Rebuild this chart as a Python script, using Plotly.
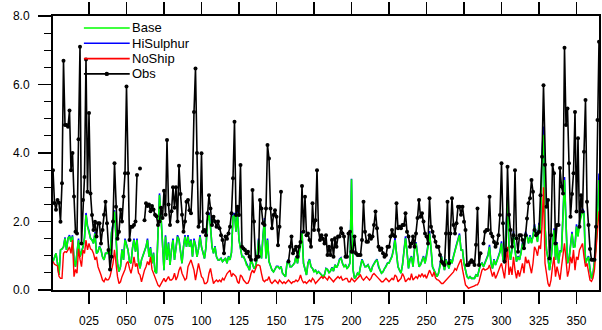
import plotly.graph_objects as go

# ---------------- data (day of year 1..365) ----------------
DAYS = list(range(1, 366))

OBS = [
    3.5, 2.54, 2.34, 2.63, 2.55, 1.99, 3.12, 6.69, 4.82, 4.82,
    4.77, 5.24, 3.5, 4.0, 2.73, 1.7, 1.65, 4.4, 7.1, 1.36,
    2.63, 3.3, 6.73, 2.87, 5.17, 2.82, 2.19, 1.75, 1.99, 1.56,
    1.95, 1.95, 1.36, 1.75, 2.2, 2.58, 1.95, 1.17, 0.6, 0.97,
    2.0, 3.7, 2.43, 1.5, 1.7, 2.34, 2.0, 2.73, 3.41, 5.94,
    3.41, 1.46, 1.85, 1.85, 1.9, 2.0, 3.36, None, 3.55, None,
    None, 2.04, 2.53, 2.45, 2.5, 2.3, 2.45, 2.35, 2.2, 2.15,
    1.9, 2.0, 2.4, 2.1, 2.9, 2.2, 4.38, 2.5, 1.9, 2.3,
    3.0, 2.4, 3.0, 2.0, 3.63, 2.8, 2.2, 1.7, 2.0, 2.58,
    2.63, 2.33, 2.24, 3.16, 5.2, 6.47, 4.0, 1.85, 2.0, 3.99,
    1.7, 1.75, 1.6, 2.24, 2.77, 2.38, 1.9, 2.14, 2.0, 1.85,
    2.0, 1.8, 1.6, 1.46, 1.07, 1.56, 1.5, 1.65, 1.85, 2.24,
    3.26, 4.91, 2.19, 2.43, 2.19, 3.65, 1.26, 1.21, 1.17, 1.07,
    1.12, 0.97, 0.88, 2.92, 2.0, 0.88, 0.97, 0.97, 2.63, 2.38,
    1.95, 1.9, 2.38, 4.23, 3.84, 2.38, 1.8, 2.19, 2.33, 2.14,
    1.31, 1.85, 2.87, None, None, None, None, 0.83, 1.26, 1.56,
    1.07, 1.17, 1.26, 0.97, 1.26, 1.4, 3.04, 1.7, 2.72, 1.6,
    1.65, 1.46, 1.26, 2.53, 1.75, 2.04, 3.5, 1.75, 1.46, 1.6,
    1.5, 1.36, 1.6, 1.02, 1.26, 1.02, 1.46, 0.97, 1.51, 1.26,
    1.56, 1.56, 1.8, 1.65, 1.56, 0.97, 0.97, 1.65, 1.7, 1.12,
    1.12, 1.56, 1.07, 1.02, 1.02, 1.02, 1.46, 2.58, 1.7, 1.41,
    1.41, 1.6, 1.5, 1.56, 1.9, 2.29, 1.8, 1.26, 1.17, 1.21,
    1.07, 0.97, 1.02, 1.26, 1.26, 1.56, 1.75, 1.6, 1.56, 2.53,
    1.8, 1.85, 1.8, 1.9, 1.9, 2.24, 1.7, 1.56, 1.26, 1.36,
    1.56, 1.26, 1.65, 2.1, 2.63, 2.14, 2.24, 2.0, 1.65, 1.56,
    1.36, 2.68, 1.85, 1.7, 1.56, 1.41, 1.26, 1.26, 1.02, 0.83,
    0.78, 0.73, 1.65, 2.58, 0.78, 1.65, 2.68, 1.9, 1.65, 1.95,
    2.43, 2.43, 2.2, 2.43, 1.99, 1.75, 0.73, 0.73, 0.8, 0.87,
    0.82, 0.73, 1.32, 2.38, 0.73, 1.07, None, 1.36, 1.7, 1.75,
    1.75, 2.72, 1.65, 1.56, 1.4, 1.26, 1.36, 1.6, 2.19, 3.7,
    1.95, 0.83, 1.17, 3.6, 2.2, 1.75, 1.26, 1.6, 3.5, 1.51,
    1.12, 1.6, 1.6, 1.46, 1.22, 1.6, 2.09, 2.53, 2.68, 3.21,
    2.87, 1.75, 1.6, 1.65, 1.7, 2.77, 3.89, 5.98, 3.66, 2.43,
    2.63, 0.92, 1.6, 3.66, 3.41, 1.36, 1.9, 1.9, 3.56, 3.02,
    2.82, 7.07, 4.82, 5.3, 3.7, 2.14, 2.8, 3.41, 5.2, 2.29,
    4.43, 1.85, 2.77, 2.29, 4.04, 5.55, 2.58, 1.9, 1.2, 0.88,
    0.88, 0.88, 1.85, 4.96, 7.25,
]

BASE = [
    0.83, 0.97, 1.07, 0.78, 0.44, 1.17, 1.2, 1.26, 1.51, 1.17,
    1.51, 1.56, 1.41, 1.56, 0.88, 0.68, 1.17, 1.46, 0.97, 1.1,
    1.26, 1.51, 2.19, 1.85, 1.7, 1.51, 1.46, 1.36, 1.65, 1.07,
    1.12, 1.26, 1.17, 0.97, 0.88, 1.07, 1.07, 1.17, 1.0, 1.65,
    1.9, 2.29, 1.56, 0.78, 0.54, 0.68, 1.17, 0.88, 1.46, 1.3,
    1.17, 0.83, 0.78, 1.22, 1.46, 1.12, 1.46, 0.83, 0.63, 0.88,
    1.0, 1.17, 1.26, 1.46, 0.97, 1.22, 0.78, 1.07, 0.54, 0.49,
    1.5, 2.77, 2.14, 1.36, 0.58, 1.56, 0.88, 1.36, 0.73, 1.17,
    1.46, 0.88, 1.26, 1.56, 1.46, 1.17, 0.78, 1.26, 1.56, 1.26,
    1.56, 1.26, 1.45, 0.97, 1.45, 1.3, 0.97, 1.2, 1.56, 1.26,
    1.07, 0.92, 1.26, 2.0, 2.19, 1.85, 1.26, 1.07, 1.26, 0.97,
    0.88, 0.88, 0.92, 0.83, 0.88, 0.92, 0.78, 0.97, 0.88, 1.1,
    2.14, 2.19, 1.7, 2.24, 1.46, 1.26, 0.97, 0.97, 0.88, 0.73,
    0.68, 0.58, 0.88, 0.78, 0.63, 0.68, 0.9, 1.46, 1.12, 0.92,
    1.56, 2.04, 0.92, 1.46, 0.83, 0.68, 0.58, 0.53, 0.63, 0.68,
    0.68, 0.63, 0.68, 0.49, 0.44, 0.39, 0.78, 0.88, 0.68, 0.68,
    0.73, 0.78, 0.97, 0.78, 1.02, 1.41, 1.66, 0.78, 0.63, 0.44,
    0.78, 0.88, 0.68, 0.63, 0.53, 0.58, 0.49, 0.53, 0.49, 0.44,
    0.39, 0.44, 0.62, 0.6, 0.5, 0.55, 0.65, 0.55, 0.73, 0.65,
    0.73, 0.88, 0.92, 0.78, 0.68, 0.73, 0.63, 0.68, 0.78, 3.23,
    0.6, 0.34, 0.39, 0.49, 0.44, 0.68, 0.88, 0.78, 0.68, 0.68,
    0.73, 0.63, 0.53, 0.68, 0.78, 0.83, 0.88, 0.68, 0.58, 0.49,
    0.53, 0.63, 0.68, 0.78, 0.78, 0.88, 0.97, 1.17, 1.46, 1.07,
    0.68, 0.58, 0.49, 0.73, 1.2, 1.51, 1.12, 0.63, 0.88, 0.97,
    0.68, 1.17, 1.36, 0.92, 0.68, 0.73, 0.88, 0.97, 0.78, 0.97,
    1.26, 1.65, 1.26, 0.68, 0.58, 0.49, 0.39, 0.49, 0.68, 0.97,
    0.78, 0.58, 0.88, 0.78, 0.63, 0.88, 0.78, 0.97, 1.17, 1.3,
    1.45, 1.6, 1.17, 1.17, 0.78, 0.58, 0.39, 0.34, 0.39, 0.34,
    0.34, 0.34, 0.44, 0.39, 0.58, 0.73, 0.78, 0.68, 0.78, 0.88,
    1.0, 1.26, 0.78, 0.63, 0.88, 0.73, 0.83, 0.97, 1.1, 1.36,
    0.88, 0.78, 1.56, 2.63, 1.26, 0.88, 1.17, 1.65, 1.17, 0.83,
    0.97, 0.88, 1.07, 1.36, 1.17, 1.65, 1.56, 1.36, 1.56, 1.36,
    1.56, 1.85, 1.65, 1.4, 1.9, 1.65, 3.79, 4.53, 1.85, 1.17,
    0.92, 0.58, 0.88, 1.36, 1.75, 0.88, 1.36, 0.78, 1.12, 1.12,
    2.14, 3.21, 1.95, 0.78, 0.88, 1.36, 1.65, 1.26, 1.26, 1.85,
    1.56, 1.95, 2.14, 2.29, 2.24, 0.78, 0.88, 0.97, 0.6, 0.34,
    0.44, 0.78, 1.26, 2.14, 3.21,
]

HISULPHUR = [
    0.83, 0.97, 1.07, 0.78, 0.44, 1.17, 1.2, 1.26, 1.54, 1.17,
    1.51, 1.6, 1.41, 1.6, 0.88, 0.68, 1.17, 1.5, 0.97, 1.1,
    1.26, 1.53, 2.25, 1.87, 1.73, 1.51, 1.46, 1.36, 1.69, 1.07,
    1.12, 1.28, 1.17, 0.97, 0.88, 1.07, 1.07, 1.17, 1.0, 1.68,
    1.93, 2.33, 1.56, 0.78, 0.54, 0.68, 1.19, 0.88, 1.5, 1.3,
    1.17, 0.83, 0.78, 1.22, 1.5, 1.12, 1.5, 0.83, 0.63, 0.88,
    1.0, 1.17, 1.26, 1.5, 0.97, 1.25, 0.78, 1.09, 0.54, 0.49,
    1.52, 2.82, 2.16, 1.36, 0.58, 1.6, 0.88, 1.39, 0.73, 1.17,
    1.5, 0.88, 1.26, 1.6, 1.48, 1.17, 0.78, 1.26, 1.6, 1.26,
    1.6, 1.26, 1.48, 0.97, 1.5, 1.32, 0.97, 1.2, 1.6, 1.26,
    1.07, 0.92, 1.26, 2.05, 2.26, 1.87, 1.26, 1.07, 1.28, 0.97,
    0.88, 0.88, 0.93, 0.83, 0.88, 0.93, 0.78, 0.99, 0.88, 1.1,
    2.18, 2.25, 1.7, 2.3, 1.46, 1.26, 0.97, 0.98, 0.88, 0.73,
    0.68, 0.58, 0.9, 0.78, 0.63, 0.68, 0.91, 1.5, 1.12, 0.92,
    1.6, 2.1, 0.92, 1.5, 0.83, 0.68, 0.58, 0.53, 0.63, 0.69,
    0.69, 0.63, 0.69, 0.49, 0.44, 0.39, 0.79, 0.9, 0.68, 0.68,
    0.73, 0.79, 0.99, 0.78, 1.04, 1.45, 1.72, 0.78, 0.63, 0.44,
    0.8, 0.9, 0.68, 0.63, 0.53, 0.59, 0.49, 0.54, 0.49, 0.44,
    0.39, 0.45, 0.63, 0.6, 0.5, 0.56, 0.66, 0.55, 0.74, 0.65,
    0.74, 0.9, 0.94, 0.78, 0.68, 0.74, 0.63, 0.69, 0.8, 3.25,
    0.6, 0.34, 0.39, 0.49, 0.44, 0.69, 0.9, 0.78, 0.68, 0.69,
    0.74, 0.63, 0.53, 0.69, 0.79, 0.85, 0.9, 0.68, 0.58, 0.49,
    0.53, 0.63, 0.68, 0.79, 0.79, 0.9, 0.99, 1.2, 1.52, 1.07,
    0.68, 0.58, 0.49, 0.74, 1.23, 1.57, 1.12, 0.63, 0.9, 0.99,
    0.68, 1.2, 1.4, 0.92, 0.68, 0.74, 0.9, 0.99, 0.78, 0.99,
    1.3, 1.72, 1.26, 0.68, 0.58, 0.49, 0.39, 0.49, 0.69, 0.99,
    0.78, 0.58, 0.9, 0.78, 0.63, 0.9, 0.78, 0.99, 1.2, 1.33,
    1.48, 1.65, 1.17, 1.17, 0.78, 0.58, 0.39, 0.34, 0.39, 0.34,
    0.34, 0.34, 0.45, 0.39, 0.58, 0.74, 0.8, 0.68, 0.8, 0.9,
    1.03, 1.32, 0.78, 0.63, 0.9, 0.73, 0.85, 0.99, 1.13, 1.42,
    0.88, 0.78, 1.6, 2.72, 1.26, 0.88, 1.2, 1.72, 1.17, 0.83,
    0.99, 0.88, 1.1, 1.4, 1.17, 1.7, 1.6, 1.36, 1.6, 1.38,
    1.6, 1.92, 1.67, 1.42, 1.96, 1.67, 3.95, 4.77, 1.87, 1.17,
    0.92, 0.58, 0.9, 1.4, 1.8, 0.88, 1.4, 0.78, 1.14, 1.15,
    2.2, 3.3, 1.97, 0.78, 0.9, 1.4, 1.7, 1.26, 1.29, 1.92,
    1.58, 2.02, 2.2, 2.38, 2.28, 0.78, 0.9, 0.99, 0.6, 0.34,
    0.45, 0.8, 1.3, 2.22, 3.4,
]

NOSHIP = [
    0.83, 0.75, 0.73, 0.7, 0.4, 0.34, 0.34, 1.07, 1.12, 1.1,
    1.17, 1.26, 1.07, 1.46, 0.39, 0.6, 0.49, 1.2, 0.9, 0.68,
    1.17, 1.07, 1.46, 1.17, 1.36, 1.2, 1.17, 1.07, 0.88, 0.97,
    0.68, 0.58, 0.44, 0.29, 0.24, 0.34, 0.29, 0.3, 0.39, 0.58,
    0.78, 1.17, 0.68, 0.39, 0.19, 0.24, 0.39, 0.49, 0.6, 0.78,
    0.83, 0.63, 0.49, 0.68, 0.97, 0.68, 0.78, 0.5, 0.44, 0.24,
    0.44, 0.58, 0.68, 0.83, 0.73, 0.97, 0.6, 0.49, 0.35, 0.29,
    0.14, 0.1, 0.19, 0.24, 0.34, 0.24, 0.3, 0.39, 0.29, 0.29,
    0.34, 0.49, 0.29, 0.39, 0.58, 0.68, 0.49, 0.4, 0.29, 0.34,
    0.68, 0.78, 0.88, 0.73, 0.58, 0.29, 0.5, 0.78, 0.58, 0.39,
    0.34, 0.19, 0.19, 0.24, 0.49, 0.63, 0.39, 0.19, 0.25, 0.29,
    0.24, 0.29, 0.24, 0.34, 0.29, 0.4, 0.48, 0.53, 0.58, 0.39,
    0.48, 0.44, 0.39, 0.24, 0.19, 0.44, 0.39, 0.29, 0.24, 0.19,
    0.2, 0.3, 0.48, 0.58, 0.5, 0.6, 0.73, 0.73, 0.7, 0.48,
    0.29, 0.24, 0.29, 0.29, 0.39, 0.24, 0.19, 0.24, 0.29, 0.24,
    0.19, 0.29, 0.24, 0.19, 0.24, 0.19, 0.24, 0.29, 0.24, 0.19,
    0.24, 0.24, 0.29, 0.25, 0.3, 0.44, 0.29, 0.21, 0.24, 0.19,
    0.24, 0.29, 0.24, 0.34, 0.29, 0.19, 0.24, 0.29, 0.34, 0.39,
    0.34, 0.39, 0.34, 0.29, 0.39, 0.34, 0.29, 0.24, 0.3, 0.34,
    0.39, 0.34, 0.39, 0.29, 0.3, 0.34, 0.34, 0.24, 0.24, 0.34,
    0.29, 0.24, 0.29, 0.34, 0.39, 0.44, 0.34, 0.29, 0.34, 0.39,
    0.34, 0.29, 0.34, 0.44, 0.48, 0.44, 0.39, 0.34, 0.29, 0.24,
    0.24, 0.29, 0.34, 0.29, 0.24, 0.29, 0.34, 0.29, 0.44, 0.39,
    0.24, 0.29, 0.34, 0.48, 0.39, 0.24, 0.29, 0.34, 0.29, 0.48,
    0.29, 0.34, 0.39, 0.34, 0.44, 0.39, 0.48, 0.39, 0.44, 0.34,
    0.48, 0.58, 0.48, 0.39, 0.53, 0.35, 0.3, 0.29, 0.24, 0.19,
    0.19, 0.24, 0.29, 0.34, 0.39, 0.44, 0.48, 0.53, 0.63, 0.58,
    0.7, 0.8, 0.9, 0.6, 0.35, 0.15, 0.1, 0.05, 0.07, 0.08,
    0.1, 0.12, 0.15, 0.15, 0.24, 0.44, 0.58, 0.63, 0.58, 0.6,
    0.63, 0.73, 0.58, 0.39, 0.53, 0.34, 0.44, 0.58, 0.68, 0.78,
    0.58, 0.34, 0.78, 1.26, 0.44, 0.68, 0.44, 0.97, 0.58, 0.34,
    0.58, 0.39, 0.58, 0.78, 0.49, 0.97, 0.78, 0.88, 0.68, 0.49,
    0.78, 1.26, 1.17, 1.0, 1.3, 1.2, 1.85, 3.0, 0.78, 0.39,
    0.19, 0.1, 0.29, 0.68, 0.97, 0.39, 0.68, 0.49, 0.3, 0.68,
    1.0, 1.36, 0.88, 0.39, 0.58, 0.97, 0.78, 1.17, 0.58, 0.97,
    0.88, 1.17, 1.26, 1.36, 0.97, 0.68, 0.78, 0.49, 0.29, 0.25,
    0.35, 0.6, 1.1, 1.75, 2.3,
]

SERIES_NAMES = ["Base", "HiSulphur", "NoShip", "Obs"]
X_TICKS = [25, 50, 75, 100, 125, 150, 175, 200, 225, 250, 275, 300, 325, 350]
X_TICK_LABELS = ["025", "050", "075", "100", "125", "150", "175",
                 "200", "225", "250", "275", "300", "325", "350"]
Y_TICKS = [0, 2, 4, 6, 8]
Y_TICK_LABELS = ["0.0", "2.0", "4.0", "6.0", "8.0"]

# ---------------- styles ----------------
FONT = "Liberation Sans, Arial, Helvetica, sans-serif"
COLORS = {"Base": "#00ff00", "HiSulphur": "#0000ff", "NoShip": "#ff0000", "Obs": "#000000"}
W, H = 602, 330
ML, MR, MT, MB = 53, 1, 16, 40

fig = go.Figure()
# draw order: HiSulphur under Base so only its tips show
fig.add_trace(go.Scatter(x=DAYS, y=HISULPHUR, mode="lines", name="HiSulphur",
                         line=dict(color=COLORS["HiSulphur"], width=1.6)))
fig.add_trace(go.Scatter(x=DAYS, y=BASE, mode="lines", name="Base",
                         line=dict(color=COLORS["Base"], width=1.6)))
fig.add_trace(go.Scatter(x=DAYS, y=NOSHIP, mode="lines", name="NoShip",
                         line=dict(color=COLORS["NoShip"], width=1.4)))
fig.add_trace(go.Scatter(x=DAYS, y=OBS, mode="lines+markers", name="Obs",
                         line=dict(color=COLORS["Obs"], width=1.6),
                         marker=dict(color=COLORS["Obs"], size=4),
                         connectgaps=False))

# ---------------- manual legend ----------------
pw, ph = W - ML - MR, H - MT - MB
def px_x(p):
    return (p - ML) / pw
def px_y(p):
    return (H - MB - p) / ph

shapes, annotations = [], []
for i, name in enumerate(SERIES_NAMES):
    yy = px_y(28 + 15.3 * i)
    shapes.append(dict(type="line", xref="paper", yref="paper",
                       x0=px_x(84), x1=px_x(130), y0=yy, y1=yy,
                       line=dict(color=COLORS[name], width=1.6)))
    annotations.append(dict(xref="paper", yref="paper", x=px_x(130.5), y=yy,
                            text=name, showarrow=False, xanchor="left", yanchor="middle",
                            font=dict(family=FONT, size=13, color="black")))
    if name == "Obs":
        r = 2.2
        shapes.append(dict(type="circle", xref="paper", yref="paper",
                           x0=px_x(107 - r), x1=px_x(107 + r),
                           y0=yy - r / ph, y1=yy + r / ph,
                           fillcolor="black", line=dict(color="black", width=0)))

fig.update_layout(
    width=W, height=H, autosize=False,
    margin=dict(l=ML, r=MR, t=MT, b=MB, pad=0),
    paper_bgcolor="white", plot_bgcolor="white",
    showlegend=False, hovermode=False,
    font=dict(family=FONT, size=12, color="black"),
    shapes=shapes, annotations=annotations,
)
fig.update_xaxes(
    range=[1, 365], tickmode="array", tickvals=X_TICKS, ticktext=X_TICK_LABELS,
    ticks="outside", ticklen=12, tickwidth=1.5, tickcolor="black",
    showline=True, linecolor="black", linewidth=2, mirror="allticks",
    showgrid=False, zeroline=False, tickfont=dict(size=12), ticklabelstandoff=7,
)
fig.update_yaxes(
    range=[0, 8], tickmode="array", tickvals=Y_TICKS, ticktext=Y_TICK_LABELS,
    ticks="outside", ticklen=13, tickwidth=1.5, tickcolor="black",
    minor=dict(tickmode="linear", tick0=0, dtick=0.5, ticks="outside", ticklen=7,
               tickwidth=1.2, tickcolor="black", showgrid=False),
    showline=True, linecolor="black", linewidth=2, mirror=True,
    showgrid=False, zeroline=False, tickfont=dict(size=12), ticklabelstandoff=6,
)

fig.write_html(
    "out.html",
    config={"displayModeBar": False, "staticPlot": True},
    post_script="document.body.style.margin='0';document.body.style.padding='0';"
                "document.body.style.overflow='hidden';",
)
